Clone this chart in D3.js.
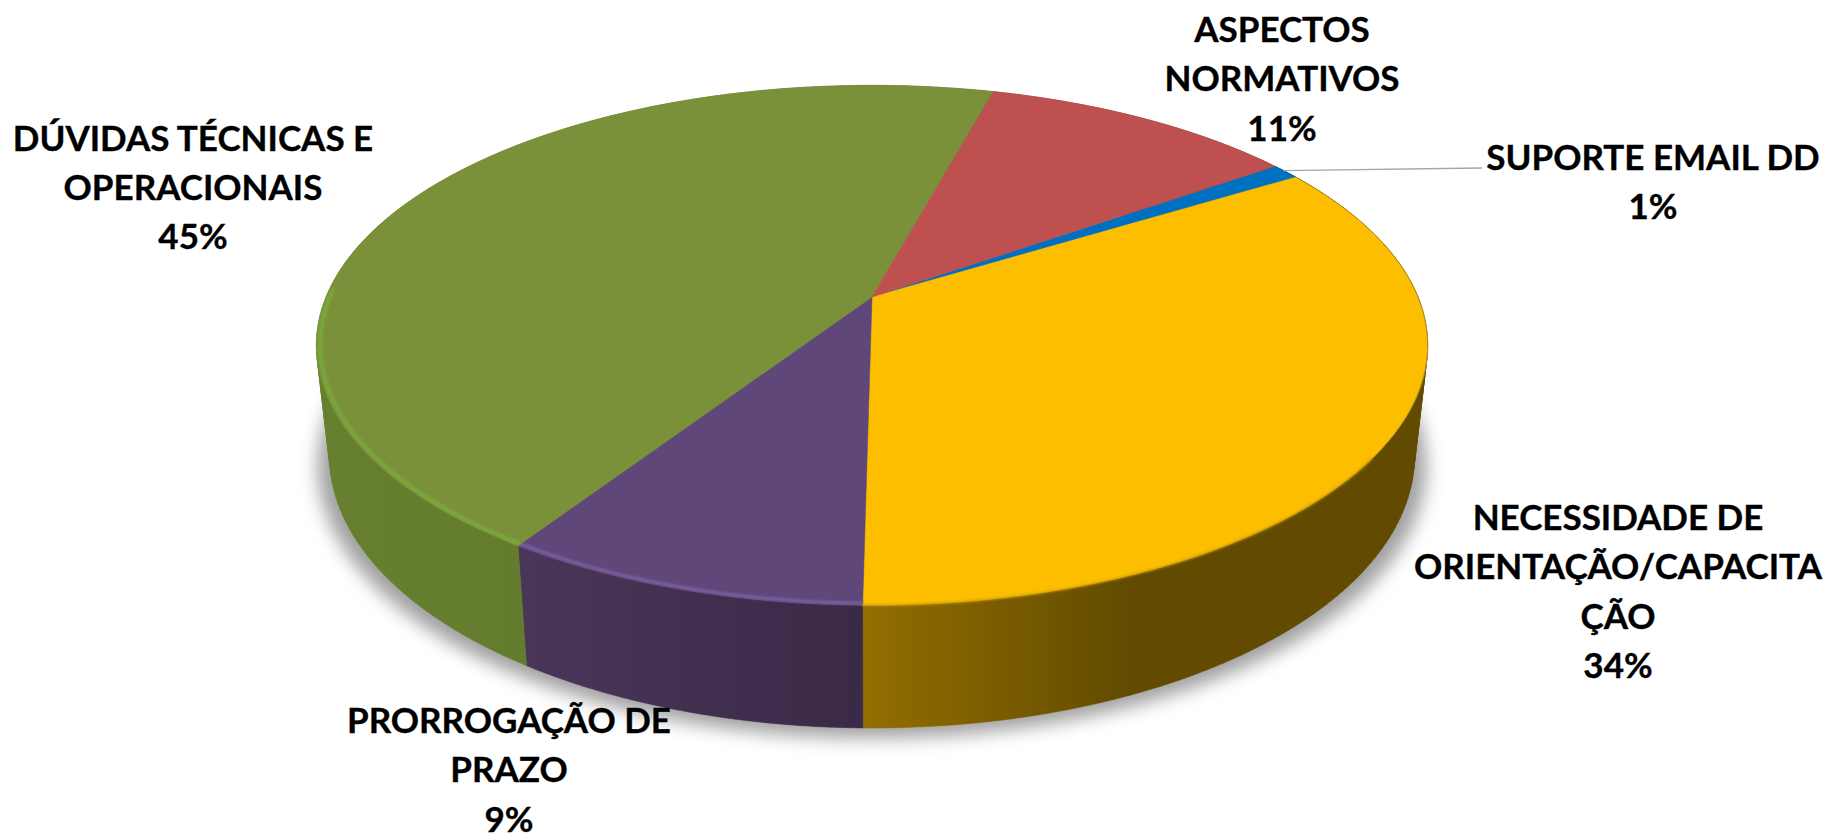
<!DOCTYPE html>
<html><head><meta charset="utf-8">
<script src="https://cdn.jsdelivr.net/npm/d3@7"></script>
<style>html,body{margin:0;padding:0;background:#fff;overflow:hidden}svg{display:block}text{font-family:Lato,Carlito,sans-serif;font-weight:700;fill:#000;stroke:#000;stroke-width:.35px}</style>
</head><body><svg id="c" width="1825" height="834"></svg>
<script>
// data
const categories = ["SUPORTE EMAIL DD","NECESSIDADE DE ORIENTAÇÃO/CAPACITAÇÃO","PRORROGAÇÃO DE PRAZO","DÚVIDAS TÉCNICAS E OPERACIONAIS","ASPECTOS NORMATIVOS"];
const values = [1,34,9,45,11];
const labelLines = [["SUPORTE EMAIL DD"],["NECESSIDADE DE","ORIENTAÇÃO/CAPACITA","ÇÃO"],["PRORROGAÇÃO DE","PRAZO"],["DÚVIDAS TÉCNICAS E","OPERACIONAIS"],["ASPECTOS","NORMATIVOS"]];
// styles
const topColors = ["#0070c0","#fdbe00","#5f4879","#7a9139","#be5150"];
const rimColors = [null,null,"#7d5fa3","#7aa63c",null];
const sideLeft  = ["#004a80","#936e00","#4a3659","#67802f","#7f3634"];
const sideRight = ["#004a80","#624b00","#3a2947","#5c712a","#7f3634"];
// layout
const labelCenters = [[1653,170],[1618,530],[509,733],[193,150.5],[1282,42]];
const lineStep = 49.3, fontSize = 35;
const startDeg = 54.8;
const apex = {x:872,y:297};
const persp = -0.1857;
const topProj = {a:546,b:251,c:apex.y}, botProj = {a:533,b:262.6,c:405.5};

const svg = d3.select("#c");
const defs = svg.append("defs");
const blur = defs.append("filter").attr("id","sh").attr("filterUnits","userSpaceOnUse").attr("x",0).attr("y",0).attr("width",1825).attr("height",834).attr("color-interpolation-filters","sRGB");
blur.append("feGaussianBlur").attr("in","SourceGraphic").attr("stdDeviation",9);
const soft = defs.append("filter").attr("id","soft").attr("filterUnits","userSpaceOnUse").attr("x",0).attr("y",0).attr("width",1825).attr("height",834);
soft.append("feGaussianBlur").attr("stdDeviation",1);

const project = (p,th)=>{ // th clockwise from top on the disc
  const x=Math.sin(th), y=-Math.cos(th), w=1+persp*y;
  return [apex.x+p.a*x/w, p.c+p.b*y/w];
};
const arcPts=(p,a0,a1,n=60)=>d3.range(0,n+1).map(i=>project(p,a0+(a1-a0)*i/n));
const line=d3.line();
const rad=d3.scaleLinear().domain([0,360]).range([0,2*Math.PI]);
const pie=d3.pie().sort(null).startAngle(rad(startDeg)).endAngle(rad(startDeg+360));
const arcs=pie(values);
const gFull=arcPts(botProj,0,2*Math.PI,120);

// shadow
svg.append("path").attr("d",line(gFull.map(([x,y])=>[x+(x-apex.x)*0.022,y+10]))+"Z").attr("fill","#a0a0a0").attr("filter","url(#sh)");

// sides: one consistently oriented quad per step so the silhouette folds fill in
arcs.forEach((d,i)=>{
  const n=120;
  const t=arcPts(topProj,d.startAngle,d.endAngle,n), b=arcPts(botProj,d.startAngle,d.endAngle,n);
  const xs=t.concat(b).map(p=>p[0]);
  let x0=d3.min(xs),x1=d3.max(xs);
  const id="sg"+i;
  if(i===1)x1=1130;
  const g=defs.append("linearGradient").attr("id",id).attr("gradientUnits","userSpaceOnUse").attr("x1",x0).attr("x2",x1).attr("y1",0).attr("y2",0);
  g.append("stop").attr("offset",0).attr("stop-color",sideLeft[i]);
  g.append("stop").attr("offset",1).attr("stop-color",sideRight[i]);
  const quads=d3.range(n).map(k=>{
    const q=[t[k],t[k+1],b[k+1],b[k]];
    if(d3.polygonArea(q)<0)q.reverse();
    return line(q)+"Z";
  }).join("");
  svg.append("path").attr("d",quads).attr("fill",`url(#${id})`).attr("stroke",`url(#${id})`).attr("stroke-width",.5);
});

// top surface
arcs.forEach((d,i)=>{
  const pts=[[apex.x,apex.y]].concat(arcPts(topProj,d.startAngle,d.endAngle));
  svg.append("path").attr("d",line(pts)+"Z").attr("fill",topColors[i]).attr("stroke",topColors[i]).attr("stroke-width",.5);
});
// rim highlights on the front edge
const inner={a:topProj.a*0.993,b:topProj.b*0.993,c:topProj.c};
arcs.forEach((d,i)=>{
  if(!rimColors[i])return;
  const end=i===3?Math.min(d.endAngle,rad(272)):d.endAngle;
  svg.append("path").attr("d",line(arcPts(inner,d.startAngle,end))).attr("fill","none").attr("stroke",rimColors[i]).attr("stroke-width",i===3?4.5:3).attr("filter","url(#soft)");
});
// thin dark edge on the yellow rim
svg.append("path").attr("d",line(arcPts(topProj,arcs[1].startAngle,rad(125)))).attr("fill","none").attr("stroke","#a98a20").attr("stroke-width",1);
svg.append("path").attr("d",line(arcPts(topProj,rad(125),arcs[1].endAngle))).attr("fill","none").attr("stroke","#c79a10").attr("stroke-width",1.6).attr("filter","url(#soft)");

// leader line
const lp=project(topProj,(arcs[0].startAngle+arcs[0].endAngle)/2);
svg.append("path").attr("d",line([[lp[0]-2,lp[1]-1],[1482,168]])).attr("fill","none").attr("stroke","#a6a6a6").attr("stroke-width",1.3);

// labels
const pct=d3.scaleLinear().domain([0,d3.sum(values)]).range([0,100]);
labelLines.forEach((lines,i)=>{
  const [cx,cy]=labelCenters[i];
  const t=svg.append("text").attr("text-anchor","middle").attr("font-size",fontSize);
  lines.concat([Math.round(pct(values[i]))+"%"]).forEach((s,j)=>t.append("tspan").attr("x",cx).attr("y",cy+j*lineStep).text(s));
});
</script></body></html>
